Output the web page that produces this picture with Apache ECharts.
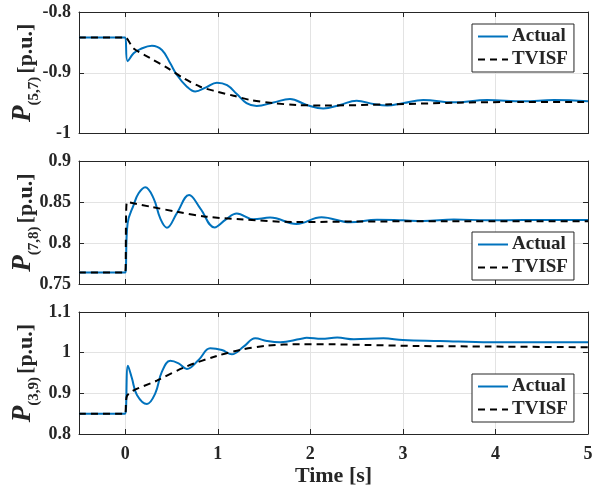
<!DOCTYPE html>
<html>
<head>
<meta charset="utf-8">
<script src="https://cdn.jsdelivr.net/npm/echarts@6/dist/echarts.min.js"></script>
<style>html,body{margin:0;padding:0;background:#fff;}#c{width:593px;height:489px;}</style>
</head>
<body>
<div id="c"></div>
<script>
// ---- data ----
const xTicks = [0, 1, 2, 3, 4, 5];
const yTicks1 = [-1, -0.9, -0.8];
const yTicks2 = [0.75, 0.8, 0.85, 0.9];
const yTicks3 = [0.8, 0.9, 1, 1.1];

// P(5,7)
const tAct1 = [-0.5, -0.02, 0, 0.025, 0.09, 0.162, 0.288, 0.396, 0.486, 0.558, 0.666, 0.756, 0.873, 0.99, 1.1, 1.205, 1.31, 1.42, 1.6, 1.78, 1.96, 2.14, 2.32, 2.5, 2.68, 2.83, 3.0, 3.22, 3.55, 3.91, 4.3, 4.63, 5.0];
const vAct1 = [-0.842, -0.842, -0.842, -0.881, -0.868, -0.861, -0.8555, -0.8625, -0.8845, -0.9037, -0.923, -0.931, -0.924, -0.9163, -0.9205, -0.935, -0.950, -0.9547, -0.949, -0.9432, -0.953, -0.959, -0.953, -0.946, -0.9514, -0.954, -0.950, -0.9448, -0.9487, -0.9448, -0.947, -0.9448, -0.947];
const tTv1 = [-0.5, -0.02, 0, 0.09, 0.27, 0.45, 0.63, 0.81, 0.99, 1.17, 1.35, 1.6, 1.85, 2.14, 2.87, 3.58, 4.3, 5.0];
const vTv1 = [-0.842, -0.842, -0.842, -0.860, -0.876, -0.8917, -0.909, -0.923, -0.931, -0.9378, -0.9448, -0.950, -0.953, -0.954, -0.952, -0.9493, -0.948, -0.948];

// P(7,8)
const tAct2 = [-0.5, -0.02, 0, 0.025, 0.09, 0.144, 0.216, 0.306, 0.378, 0.45, 0.558, 0.69, 0.81, 0.965, 1.085, 1.205, 1.385, 1.565, 1.85, 2.12, 2.43, 2.72, 3.0, 3.22, 3.55, 3.91, 4.3, 5.0];
const vAct2 = [0.764, 0.764, 0.764, 0.824, 0.8463, 0.8606, 0.868, 0.8545, 0.830, 0.8187, 0.8365, 0.8585, 0.8423, 0.819, 0.8285, 0.836, 0.829, 0.831, 0.8232, 0.8313, 0.8252, 0.8284, 0.8276, 0.8268, 0.8288, 0.8276, 0.828, 0.828];
const tTv2 = [-0.5, -0.02, 0, 0.018, 0.27, 0.56, 0.88, 1.24, 1.85, 2.5, 3.5, 5.0];
const vTv2 = [0.764, 0.764, 0.764, 0.850, 0.8443, 0.838, 0.832, 0.829, 0.8255, 0.8262, 0.8265, 0.8265];

// P(3,9)
const tAct3 = [-0.5, -0.02, 0, 0.029, 0.072, 0.126, 0.234, 0.324, 0.396, 0.486, 0.576, 0.666, 0.792, 0.918, 1.044, 1.152, 1.278, 1.404, 1.53, 1.674, 1.89, 1.96, 2.12, 2.29, 2.47, 2.79, 3.0, 3.4, 3.94, 5.0];
const vAct3 = [0.85, 0.85, 0.85, 0.968, 0.937, 0.896, 0.8738, 0.900, 0.9532, 0.980, 0.9738, 0.960, 0.982, 1.0107, 1.0066, 0.996, 1.0147, 1.0353, 1.0287, 1.0255, 1.0336, 1.0365, 1.034, 1.037, 1.0329, 1.0353, 1.031, 1.0287, 1.0255, 1.0255];
const tTv3 = [-0.5, -0.02, 0, 0.018, 0.34, 0.66, 0.99, 1.24, 1.53, 1.89, 2.25, 2.6, 3.14, 3.94, 5.0];
const vTv3 = [0.85, 0.85, 0.85, 0.8934, 0.931, 0.966, 0.992, 1.0066, 1.017, 1.021, 1.0205, 1.019, 1.0165, 1.015, 1.0133];

// ---- chart ----
const zip = (t, v) => t.map((x, i) => [x, v[i]]);
const FONT = 'Liberation Serif';
const AX = '#262626';
const GRIDC = '#e3e3e3';
const grids = [
  { left: 79, width: 509, top: 12, height: 121.5, containLabel: false, outerBoundsMode: 'none' },
  { left: 79, width: 509, top: 161, height: 123, containLabel: false, outerBoundsMode: 'none' },
  { left: 79, width: 509, top: 312, height: 122, containLabel: false, outerBoundsMode: 'none' }
];
const yRanges = [[-1, -0.8, yTicks1, '(5,7)'], [0.75, 0.9, yTicks2, '(7,8)'], [0.8, 1.1, yTicks3, '(3,9)']];
const xAxes = [], yAxes = [];
for (let g = 0; g < 3; g++) {
  const last = g === 2;
  xAxes.push({
    type: 'value', gridIndex: g, position: 'bottom', min: -0.5, max: 5,
    axisLine: { show: true, onZero: false, lineStyle: { color: AX, width: 1 } },
    axisTick: { show: true, inside: true, length: 5, customValues: xTicks, lineStyle: { color: AX } },
    axisLabel: { show: last, customValues: xTicks, margin: 11, color: AX, fontFamily: FONT, fontWeight: 'bold', fontSize: 18 },
    splitLine: { show: true, lineStyle: { color: GRIDC, width: 1 } },
    name: last ? 'Time [s]' : '', nameLocation: 'middle', nameGap: 31, nameMoveOverlap: false,
    nameTextStyle: { color: AX, fontFamily: FONT, fontWeight: 'bold', fontSize: 22 }
  });
  xAxes.push({
    type: 'value', gridIndex: g, position: 'top', min: -0.5, max: 5,
    axisLine: { show: true, onZero: false, lineStyle: { color: AX, width: 1 } },
    axisTick: { show: true, inside: true, length: 5, customValues: xTicks, lineStyle: { color: AX } },
    axisLabel: { show: false, customValues: xTicks },
    splitLine: { show: false }
  });
  const [mn, mx, ticks, sub] = yRanges[g];
  yAxes.push({
    type: 'value', gridIndex: g, position: 'left', min: mn, max: mx,
    axisLine: { show: true, onZero: false, lineStyle: { color: AX, width: 1 } },
    axisTick: { show: true, inside: true, length: 5, customValues: ticks, lineStyle: { color: AX } },
    axisLabel: { customValues: ticks, margin: 8, color: AX, fontFamily: FONT, fontWeight: 'bold', fontSize: 18 },
    splitLine: { show: true, lineStyle: { color: GRIDC, width: 1 } },
    name: '{p|P}{s|' + sub + '} {u|[p.u.]}', nameLocation: 'middle', nameRotate: 90, nameGap: 42, nameMoveOverlap: false,
    nameTextStyle: {
      color: AX, fontFamily: FONT, fontWeight: 'bold',
      rich: {
        p: { fontFamily: FONT, fontStyle: 'italic', fontWeight: 'bold', fontSize: 27, color: AX, lineHeight: 26, verticalAlign: 'bottom' },
        s: { fontFamily: FONT, fontWeight: 'bold', fontSize: 15, color: AX, lineHeight: 14, verticalAlign: 'bottom', padding: [0, 0, -5, 0] },
        u: { fontFamily: FONT, fontWeight: 'bold', fontSize: 22, color: AX, lineHeight: 26, verticalAlign: 'bottom' }
      }
    }
  });
  yAxes.push({
    type: 'value', gridIndex: g, position: 'right', min: mn, max: mx,
    axisLine: { show: true, onZero: false, lineStyle: { color: AX, width: 1 } },
    axisTick: { show: true, inside: true, length: 5, customValues: ticks, lineStyle: { color: AX } },
    axisLabel: { show: false, customValues: ticks },
    splitLine: { show: false }
  });
}
const data = [[tAct1, vAct1, tTv1, vTv1], [tAct2, vAct2, tTv2, vTv2], [tAct3, vAct3, tTv3, vTv3]];
const series = [];
for (let g = 0; g < 3; g++) {
  const [ta, va, tt, vt] = data[g];
  series.push({
    name: 'Actual', type: 'line', xAxisIndex: g * 2, yAxisIndex: g * 2, data: zip(ta, va),
    symbol: 'none', smooth: 0.4, lineStyle: { color: '#0072BD', width: 2 }, itemStyle: { color: '#0072BD' }, z: 2
  });
  series.push({
    name: 'TVISF', type: 'line', xAxisIndex: g * 2, yAxisIndex: g * 2, data: zip(tt, vt),
    symbol: 'none', smooth: 0.3, lineStyle: { color: '#000', width: 2, type: [7, 5] }, itemStyle: { color: '#000' }, z: 3
  });
}
const legendTops = [24, 232, 374];
const legends = legendTops.map(t => ({
  left: 472, top: t, orient: 'vertical', data: ['Actual', 'TVISF'],
  itemWidth: 30, itemHeight: 14, itemGap: 4, selectedMode: false,
  itemStyle: { opacity: 0 },
  borderColor: AX, borderWidth: 1, backgroundColor: '#fff', borderRadius: 0, padding: [3, 6, 3, 5],
  textStyle: { fontFamily: FONT, fontWeight: 'bold', fontSize: 19, color: AX, padding: [0, 0, 0, -1] }
}));
const chart = echarts.init(document.getElementById('c'), null, { renderer: 'canvas' });
chart.setOption({
  animation: false, backgroundColor: '#fff',
  grid: grids, xAxis: xAxes, yAxis: yAxes, series: series, legend: legends
});
</script>
</body>
</html>
